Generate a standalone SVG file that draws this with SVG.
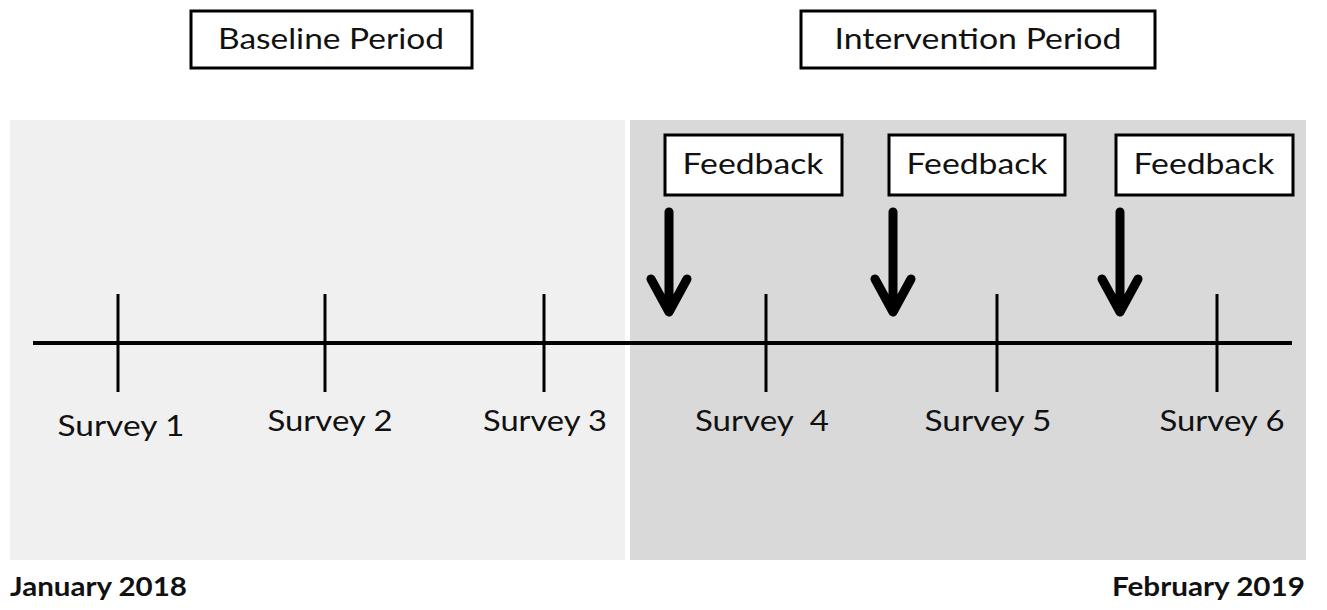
<svg xmlns="http://www.w3.org/2000/svg" width="1327" height="610" viewBox="0 0 1327 610">
<style>
.box{fill:#fff;stroke:#000;stroke-width:3}
.t{font-family:Lato,"Liberation Sans",sans-serif;font-size:28px;fill:#111;text-anchor:middle}
.s{font-family:Lato,"Liberation Sans",sans-serif;font-size:28px;fill:#111;text-anchor:middle}
.d{font-family:Lato,"Liberation Sans",sans-serif;font-size:26px;font-weight:bold;fill:#111}
.tick{stroke:#000;stroke-width:3}
.arr{fill:none;stroke:#000;stroke-width:9;stroke-linecap:round;stroke-linejoin:round}
</style>
<rect width="1327" height="610" fill="#fff"/>
<g id="baseline-panel"><rect x="10" y="120" width="615" height="440" fill="#f0f0f0"/></g>
<g id="intervention-panel"><rect x="630" y="120" width="676" height="440" fill="#d9d9d9"/></g>
<g id="baseline-label"><rect class="box" x="191" y="11" width="281" height="57"/><text class="t" x="331" y="49" textLength="226" lengthAdjust="spacingAndGlyphs">Baseline Period</text></g>
<g id="intervention-label"><rect class="box" x="801" y="11" width="354" height="57"/><text class="t" x="978" y="49" textLength="287" lengthAdjust="spacingAndGlyphs">Intervention Period</text></g>
<g id="feedback1"><rect class="box" x="665" y="135" width="177" height="60"/><text class="t" x="753" y="174" textLength="141" lengthAdjust="spacingAndGlyphs">Feedback</text></g>
<g id="feedback2"><rect class="box" x="889" y="135" width="176" height="60"/><text class="t" x="977" y="174" textLength="141" lengthAdjust="spacingAndGlyphs">Feedback</text></g>
<g id="feedback3"><rect class="box" x="1116" y="135" width="177" height="60"/><text class="t" x="1204" y="174" textLength="141" lengthAdjust="spacingAndGlyphs">Feedback</text></g>
<g id="connectors">
<line x1="33" y1="343" x2="1292" y2="343" stroke="#000" stroke-width="4"/>
<line class="tick" x1="118" y1="294" x2="118" y2="392"/>
<line class="tick" x1="325" y1="294" x2="325" y2="392"/>
<line class="tick" x1="544" y1="294" x2="544" y2="392"/>
<line class="tick" x1="766" y1="294" x2="766" y2="392"/>
<line class="tick" x1="997" y1="294" x2="997" y2="392"/>
<line class="tick" x1="1217" y1="294" x2="1217" y2="392"/>
<path class="arr" d="M669 212V310M651 279L669 312L687 279"/>
<path class="arr" d="M893 212V310M875 279L893 312L911 279"/>
<path class="arr" d="M1120 212V310M1102 279L1120 312L1138 279"/>
</g>
<g id="survey1"><text class="s" x="121" y="436" textLength="127" lengthAdjust="spacingAndGlyphs">Survey 1</text></g>
<g id="survey2"><text class="s" x="330" y="431" textLength="125" lengthAdjust="spacingAndGlyphs">Survey 2</text></g>
<g id="survey3"><text class="s" x="545" y="431" textLength="124" lengthAdjust="spacingAndGlyphs">Survey 3</text></g>
<g id="survey4"><text class="s" x="762" y="431" textLength="134" lengthAdjust="spacingAndGlyphs" xml:space="preserve">Survey  4</text></g>
<g id="survey5"><text class="s" x="988" y="431" textLength="127" lengthAdjust="spacingAndGlyphs">Survey 5</text></g>
<g id="survey6"><text class="s" x="1222" y="431" textLength="125" lengthAdjust="spacingAndGlyphs">Survey 6</text></g>
<g id="start-date"><text class="d" x="10" y="596" textLength="177" lengthAdjust="spacingAndGlyphs">January 2018</text></g>
<g id="end-date"><text class="d" x="1305" y="596" text-anchor="end" textLength="193" lengthAdjust="spacingAndGlyphs">February 2019</text></g>
</svg>
